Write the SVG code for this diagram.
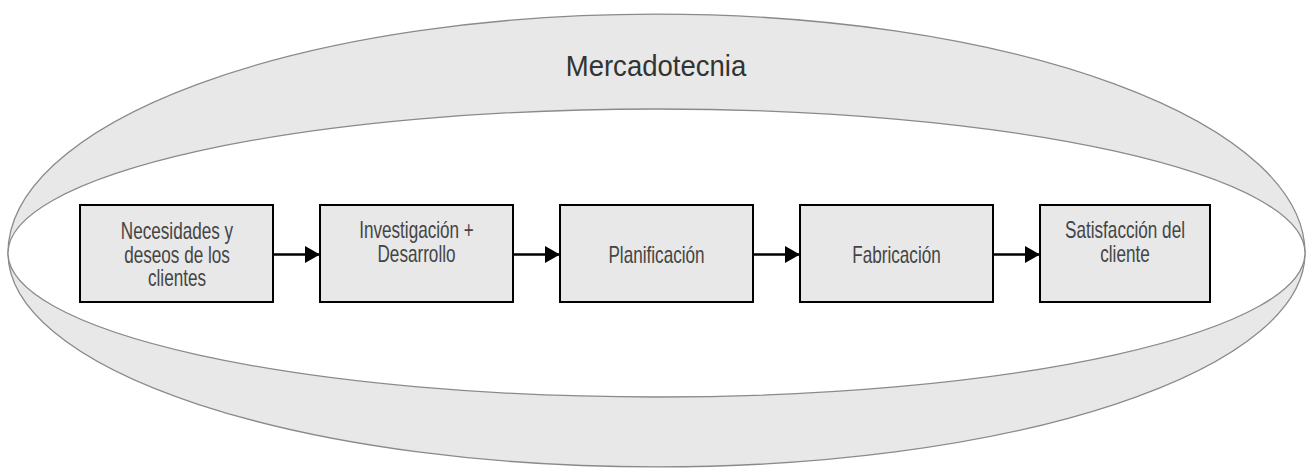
<svg xmlns="http://www.w3.org/2000/svg" width="1307" height="468" viewBox="0 0 1307 468">
<style>
.band{fill:#e8e8e8;stroke:#8a8a8a;stroke-width:1.3}
.hole{fill:#ffffff;stroke:#8a8a8a;stroke-width:1.3}
.box{fill:#e8e8e8;stroke:#000;stroke-width:2}
.lbl{font-family:"Liberation Sans",Arial,sans-serif;font-size:23px;fill:#444;text-anchor:middle}
.title{font-family:"Liberation Sans",Arial,sans-serif;font-size:29px;fill:#333;text-anchor:middle}
.conn{stroke:#000;stroke-width:2.6;fill:none}
</style>
<defs>
<marker id="ah" markerUnits="userSpaceOnUse" markerWidth="16" markerHeight="18" refX="15" refY="8.5" orient="auto">
<path d="M0,0 L15,8.5 L0,17 Z" fill="#000"/>
</marker>
</defs>
<g id="mercadotecnia">
<path class="band" d="M8,253 A648.5,239 0 0 1 1305,253 A648.5,214 0 0 1 8,253 Z"/>
<ellipse class="hole" cx="656.5" cy="253" rx="648.5" ry="144"/>
<g transform="translate(656 0) scale(0.95 1)"><text class="title" x="0" y="76">Mercadotecnia</text></g>
</g>
<g id="connectors">
<line class="conn" x1="273" y1="254.5" x2="320" y2="254.5" marker-end="url(#ah)"/>
<line class="conn" x1="513" y1="254.5" x2="560" y2="254.5" marker-end="url(#ah)"/>
<line class="conn" x1="753" y1="254.5" x2="800" y2="254.5" marker-end="url(#ah)"/>
<line class="conn" x1="993" y1="254.5" x2="1040" y2="254.5" marker-end="url(#ah)"/>
</g>
<g id="necesidades">
<rect class="box" x="80" y="205" width="193" height="97"/>
<g transform="translate(177 0) scale(0.745 1)">
<text class="lbl" x="0" y="239">Necesidades y</text>
<text class="lbl" x="0" y="263">deseos de los</text>
<text class="lbl" x="0" y="286">clientes</text>
</g>
</g>
<g id="investigacion">
<rect class="box" x="320" y="205" width="193" height="97"/>
<g transform="translate(416.5 0) scale(0.745 1)">
<text class="lbl" x="0" y="238">Investigación +</text>
<text class="lbl" x="0" y="262">Desarrollo</text>
</g>
</g>
<g id="planificacion">
<rect class="box" x="560" y="205" width="193" height="97"/>
<g transform="translate(656.5 0) scale(0.745 1)">
<text class="lbl" x="0" y="263">Planificación</text>
</g>
</g>
<g id="fabricacion">
<rect class="box" x="800" y="205" width="193" height="97"/>
<g transform="translate(896.5 0) scale(0.745 1)">
<text class="lbl" x="0" y="263">Fabricación</text>
</g>
</g>
<g id="satisfaccion">
<rect class="box" x="1040" y="205" width="170" height="97"/>
<g transform="translate(1125 0) scale(0.745 1)">
<text class="lbl" x="0" y="238">Satisfacción del</text>
<text class="lbl" x="0" y="262">cliente</text>
</g>
</g>
</svg>
